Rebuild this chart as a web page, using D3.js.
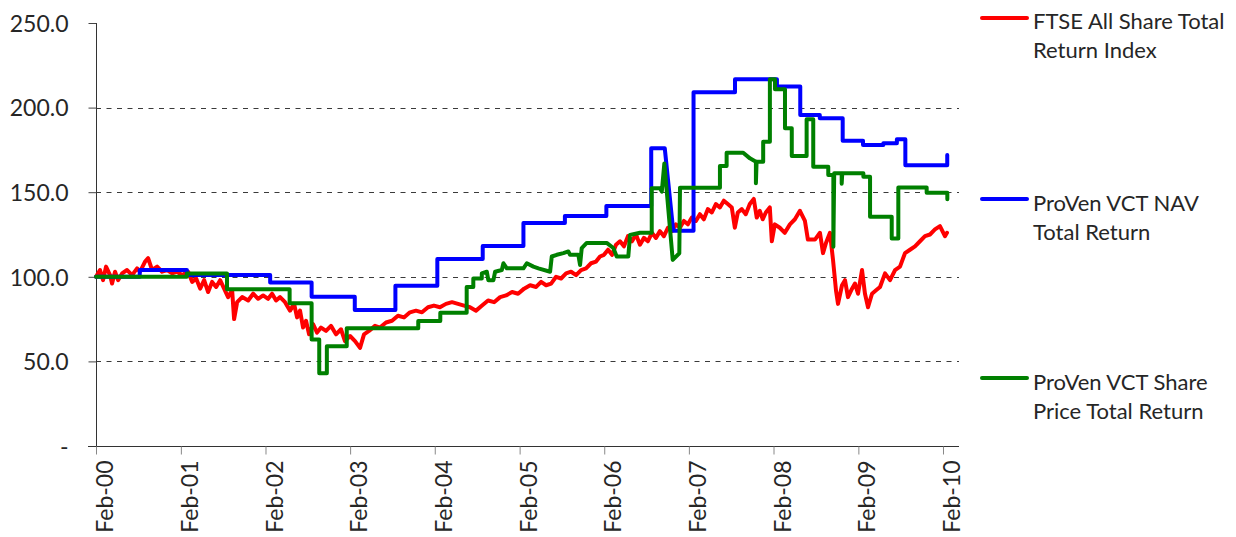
<!DOCTYPE html>
<html>
<head>
<meta charset="utf-8">
<script src="https://cdn.jsdelivr.net/npm/d3@7"></script>
<style>
  html, body { margin: 0; padding: 0; background: #ffffff; }
  svg { display: block; }
  text { font-family: Lato, "Open Sans", sans-serif; fill: #262626; }
</style>
</head>
<body>
<svg id="chart" width="1236" height="537"></svg>
<script>
// ---------- DATA (dates as decimal years, values as index) ----------
const tickLabels = ["Feb-00","Feb-01","Feb-02","Feb-03","Feb-04","Feb-05","Feb-06","Feb-07","Feb-08","Feb-09","Feb-10"];
const yTicks = [0, 50, 100, 150, 200, 250];
const gridValues = [50, 100, 150, 200];

const seriesNames = ["FTSE All Share Total Return Index", "ProVen VCT NAV Total Return", "ProVen VCT Share Price Total Return"];

const ftseYears = [2000.085,2000.132,2000.168,2000.203,2000.250,2000.274,2000.309,2000.345,2000.392,2000.451,2000.510,2000.569,2000.604,2000.663,2000.699,2000.746,2000.805,2000.864,2000.923,2000.982,
  2001.041,2001.100,2001.171,2001.218,2001.266,2001.313,2001.360,2001.407,2001.454,2001.502,2001.549,2001.596,2001.643,2001.691,2001.714,2001.750,2001.809,2001.880,2001.939,2001.998,
  2002.057,2002.116,2002.163,2002.210,2002.257,2002.316,2002.375,2002.423,2002.458,2002.493,2002.529,2002.564,2002.600,2002.647,2002.694,2002.741,2002.800,2002.859,2002.918,2002.977,
  2003.024,2003.084,2003.143,2003.202,2003.249,2003.308,2003.379,2003.438,2003.509,2003.580,2003.650,2003.721,2003.792,2003.863,2003.934,
  2004.005,2004.075,2004.146,2004.217,2004.288,2004.359,2004.430,2004.500,2004.571,2004.642,2004.713,2004.784,2004.855,2004.925,2004.996,
  2005.067,2005.138,2005.209,2005.280,2005.339,2005.398,2005.457,2005.516,2005.575,2005.634,2005.693,2005.752,2005.811,2005.870,2005.929,2005.988,
  2006.035,2006.082,2006.130,2006.177,2006.224,2006.271,2006.318,2006.365,2006.413,2006.460,2006.507,2006.554,2006.601,2006.648,2006.696,2006.743,2006.790,2006.837,2006.884,2006.932,2006.979,
  2007.026,2007.073,2007.120,2007.168,2007.215,2007.262,2007.309,2007.356,2007.404,2007.451,2007.498,2007.545,2007.592,2007.628,2007.663,2007.710,2007.757,2007.805,2007.852,2007.887,2007.923,2007.958,2007.994,
  2008.041,2008.065,2008.100,2008.159,2008.218,2008.278,2008.337,2008.396,2008.455,2008.490,2008.573,2008.632,2008.668,2008.703,2008.750,2008.786,2008.821,2008.845,2008.892,2008.927,2008.962,
  2009.010,2009.045,2009.081,2009.128,2009.163,2009.199,2009.246,2009.294,2009.341,2009.400,2009.459,2009.518,2009.577,2009.636,2009.695,2009.754,2009.813,2009.872,2009.931,2009.990,
  2010.049,2010.108,2010.132];
const ftseValues = [100,104,98,106,101,96,103,98,102,104,101,105,103,109,111,104,106,103,104,102,
  103,101,103,97,99,93,98,91,97,94,98,93,88,92,75,85,88,86,90,87,
  89,87,90,86,88,85,80,84,76,80,70,74,66,72,67,70,68,71,66,69,
  62,65,62,58,66,68,71,70,73,74,77,76,79,80,79,
  82,83,82,84,85,84,83,82,80,83,86,85,88,89,91,
  90,93,95,94,97,95,96,100,99,102,103,101,104,105,108,109,
  112,113,116,113,119,121,118,124,121,125,119,123,121,126,123,127,124,129,127,131,129,
  133,131,135,133,137,134,140,138,143,141,145,143,141,129,138,140,137,143,146,135,139,134,138,
  141,121,131,129,126,131,134,139,133,122,122,126,114,120,126,110,92,84,95,98,88,
  93,96,90,104,90,82,90,92,94,102,98,104,106,114,116,118,121,124,125,128,
  130,124,126];

const navYears = [2000.085,2000.60,2000.60,2001.156,2001.156,2002.14,2002.14,2002.63,2002.63,2003.14,2003.14,2003.62,2003.62,2004.115,2004.115,2004.65,2004.65,2005.13,2005.13,2005.62,2005.62,2006.11,2006.11,2006.64,2006.64,2006.80,2006.90,2007.14,2007.14,2007.63,2007.63,2008.125,2008.125,2008.40,2008.40,2008.63,2008.63,2008.90,2008.90,2009.14,2009.14,2009.38,2009.38,2009.54,2009.54,2009.64,2009.64,2010.135,2010.135];
const navValues = [100,100,104,104,101,101,96.7,96.7,88.2,88.2,80.4,80.4,94.7,94.7,110.5,110.5,118.2,118.2,131.8,131.8,136,136,141.8,141.8,176,176,127.2,127.2,209,209,216.7,216.7,212.4,212.4,195.6,195.6,193.7,193.7,180.4,180.4,177.9,177.9,178.9,178.9,181.3,181.3,166,166,172];

const shareYears = [2000.085,2001.156,2001.156,2001.63,2001.63,2002.37,2002.37,2002.63,2002.63,2002.72,2002.72,2002.81,2002.81,2003.045,2003.045,2003.89,2003.89,2004.15,2004.15,
  2004.461,2004.461,2004.539,2004.539,2004.639,2004.639,2004.698,2004.716,2004.776,2004.796,2004.875,2004.894,2004.934,2005.130,2005.170,2005.248,2005.307,2005.445,2005.465,2005.524,2005.602,2005.661,2005.681,2005.779,2005.799,2005.819,2005.878,
  2006.114,2006.192,2006.232,2006.369,2006.39,2006.507,2006.646,2006.646,2006.744,2006.765,2006.795,2006.894,2006.972,2006.98,
  2007.452,2007.452,2007.531,2007.531,2007.727,2007.806,2007.877,2007.877,2007.885,2007.963,2007.963,2008.042,2008.042,2008.102,2008.102,2008.22,2008.22,2008.30,2008.30,2008.475,2008.475,2008.553,2008.553,2008.73,2008.73,2008.79,2008.79,2008.80,2008.888,2008.888,2008.895,2009.144,2009.144,2009.223,2009.223,2009.479,2009.479,2009.557,2009.557,2009.892,2009.892,2010.136,2010.136];
const shareValues = [100,100,102,102,92.6,92.6,84.3,84.3,63,63,43,43,59,59,69.6,69.6,73.9,73.9,78.8,
  78.8,94,94,99,99,102,103,98,98,103,104,108,105,105,108,106,105,103,112,113,114,115,113,113,107,117,120,
  120,117,112,112,124.7,126,126,152.3,152.3,150.3,167,110,113.9,152.7,
  152.7,165.5,165.5,173.3,173.3,170,168,155.3,168,168,179.8,179.8,216.7,216.7,210.8,210.8,187.8,187.8,171.4,171.4,193.1,193.1,165.1,165.1,160.2,160.2,117.8,161.2,161.2,155,161.2,161.2,159.2,159.2,135.5,135.5,122.7,122.7,152.8,152.8,149.7,149.7,145.8];

const seriesColors = ["#ff0000", "#0000ff", "#008000"];

// ---------- helpers ----------
function toDate(dec) {
  const y = Math.floor(dec);
  const s = new Date(y, 0, 1), e = new Date(y + 1, 0, 1);
  return new Date(+s + (dec - y) * (e - s));
}
const zip = (xs, vs) => xs.map((d, i) => ({ date: toDate(d), value: vs[i] }));
const series = [zip(ftseYears, ftseValues), zip(navYears, navValues), zip(shareYears, shareValues)];

// ---------- layout ----------
const svg = d3.select("#chart");
const plot = { left: 96, right: 959, top: 23, bottom: 446 };

const x = d3.scaleTime()
  .domain([new Date(2000, 1, 1), toDate(2010.274)])
  .range([plot.left, plot.right]);
const y = d3.scaleLinear().domain([0, 250]).range([plot.bottom, plot.top]);

// gridlines
svg.append("g").selectAll("line").data(gridValues).join("line")
  .attr("x1", plot.left).attr("x2", plot.right)
  .attr("y1", d => Math.round(y(d)) + 0.5).attr("y2", d => Math.round(y(d)) + 0.5)
  .attr("stroke", "#3a3a3a").attr("stroke-width", 1).attr("stroke-dasharray", "5,5.5");

// y axis
const yAxis = d3.axisLeft(y).tickValues(yTicks).tickSize(8).tickPadding(20)
  .tickFormat(d => d === 0 ? "-" : d3.format(".1f")(d));
const gy = svg.append("g").attr("transform", `translate(${plot.left + 0.5},0)`).call(yAxis);
gy.select(".domain").attr("stroke", "#333").attr("d", `M0,${plot.top}V${plot.bottom}`);
gy.selectAll(".tick line").attr("stroke", "#444");
gy.selectAll(".tick text").attr("font-size", 23).attr("fill", "#262626")
  .attr("font-family", "Lato, 'Open Sans', sans-serif").attr("dy", "0.36em");

// x axis
const tickDates = tickLabels.map((_, i) => new Date(2000 + i, 1, 1));
const xAxis = d3.axisBottom(x).tickValues(tickDates).tickSize(8).tickFormat((d, i) => tickLabels[i]);
const gx = svg.append("g").attr("transform", `translate(0,${plot.bottom + 0.5})`).call(xAxis);
gx.select(".domain").attr("stroke", "#333").attr("d", `M${plot.left - 8},0H${plot.right}`);
gx.selectAll(".tick line").attr("stroke", "#888");
gx.selectAll(".tick text")
  .attr("font-size", 23).attr("fill", "#262626")
  .attr("font-family", "Lato, 'Open Sans', sans-serif")
  .attr("text-anchor", "end")
  .attr("transform", "rotate(-90)")
  .attr("x", -14).attr("y", 0).attr("dy", "0.72em").attr("dx", 0);

// lines
const line = d3.line().x(d => x(d.date)).y(d => y(d.value));
svg.append("g").selectAll("path").data(series).join("path")
  .attr("d", line)
  .attr("fill", "none")
  .attr("stroke", (d, i) => seriesColors[i])
  .attr("stroke-width", 4)
  .attr("stroke-linejoin", "round")
  .attr("stroke-linecap", "round");

// legend
const legendLayout = [
  { lineY: 18, lines: ["FTSE All Share Total", "Return Index"], baseY: 29 },
  { lineY: 199, lines: ["ProVen VCT NAV", "Total Return"], baseY: 211 },
  { lineY: 378, lines: ["ProVen VCT Share", "Price Total Return"], baseY: 390 }
];
const lg = svg.append("g");
legendLayout.forEach((L, i) => {
  lg.append("line").attr("x1", 982).attr("x2", 1027).attr("y1", L.lineY).attr("y2", L.lineY)
    .attr("stroke", seriesColors[i]).attr("stroke-width", 4).attr("stroke-linecap", "round");
  const t = lg.append("text").attr("x", 1033).attr("y", L.baseY).attr("font-size", 22);
  L.lines.forEach((s, j) => t.append("tspan").attr("x", 1033).attr("y", L.baseY + j * 29).text(s));
});
</script>
</body>
</html>
